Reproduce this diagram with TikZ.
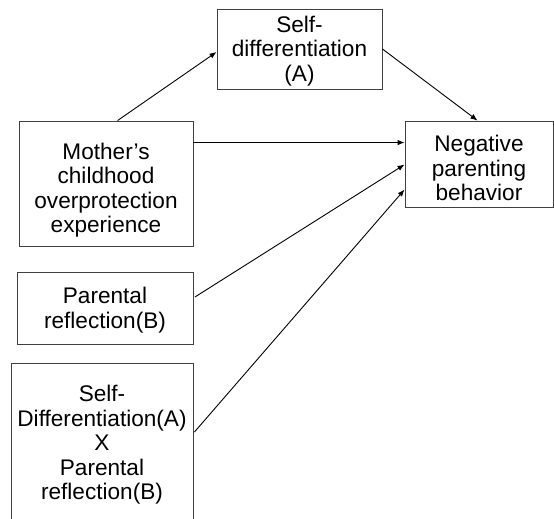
\documentclass[tikz,border=0pt]{standalone}
\usepackage{fontspec}
\setmainfont{Liberation Sans}
\usetikzlibrary{arrows.meta,calc}
\begin{document}
\begin{tikzpicture}[x=1pt,y=-1pt,
  box/.style={draw=black!75,line width=0.9pt,fill=white,inner sep=0pt,rectangle},
  txt/.style={align=center,inner sep=0pt,font=\fontsize{22.6}{24.5}\selectfont},
  arr/.style={draw=black,line width=0.9pt,-{Latex[length=7pt,width=5.5pt]}}]
\useasboundingbox (0,0) rectangle (554,519);
\clip (0,0) rectangle (554,519);
\fill[white] (0,0) rectangle (554,519);
% boxes
\node[box,minimum width=165,minimum height=80] (sda) at (299.5,49) {};
\node[box,minimum width=174,minimum height=125] (mother) at (106,183.5) {};
\node[box,minimum width=148,minimum height=86] (neg) at (479,164) {};
\node[box,minimum width=176,minimum height=72] (par) at (105,308) {};
\node[box,minimum width=182,minimum height=162] (sdx) at (102,444) {};
% texts
\node[txt] (sdat) at (299.5,51) {Self-\\differentiation\\(A)};
\node[txt] (mothert) at (106,190) {Mother’s\\childhood\\overprotection\\experience};
\node[txt] (negt) at (479,168) {Negative\\parenting\\behavior};
\node[txt] (part) at (105,310) {Parental\\reflection(B)};
\node[txt] (sdxt) at (102,445) {Self-\\Differentiation(A)\\X\\Parental\\reflection(B)};
% connectors
\draw[arr] ($(mother.north west)!0.566!(mother.north east)$) -- ($(sda.west)+(0,3)$);
\draw[arr] (sda.east) -- ($(neg.north west)!0.49!(neg.north east)$);
\draw[arr] ($(mother.north east)+(0,22)$) -- ($(neg.north west)+(0,22)$);
\draw[arr] ($(par.east)+(1.5,-11)$) -- ($(neg.north west)+(0,44)$);
\draw[arr] ($(sdx.east)+(1,-12)$) -- ($(neg.north west)+(0,69)$);
\end{tikzpicture}
\end{document}
